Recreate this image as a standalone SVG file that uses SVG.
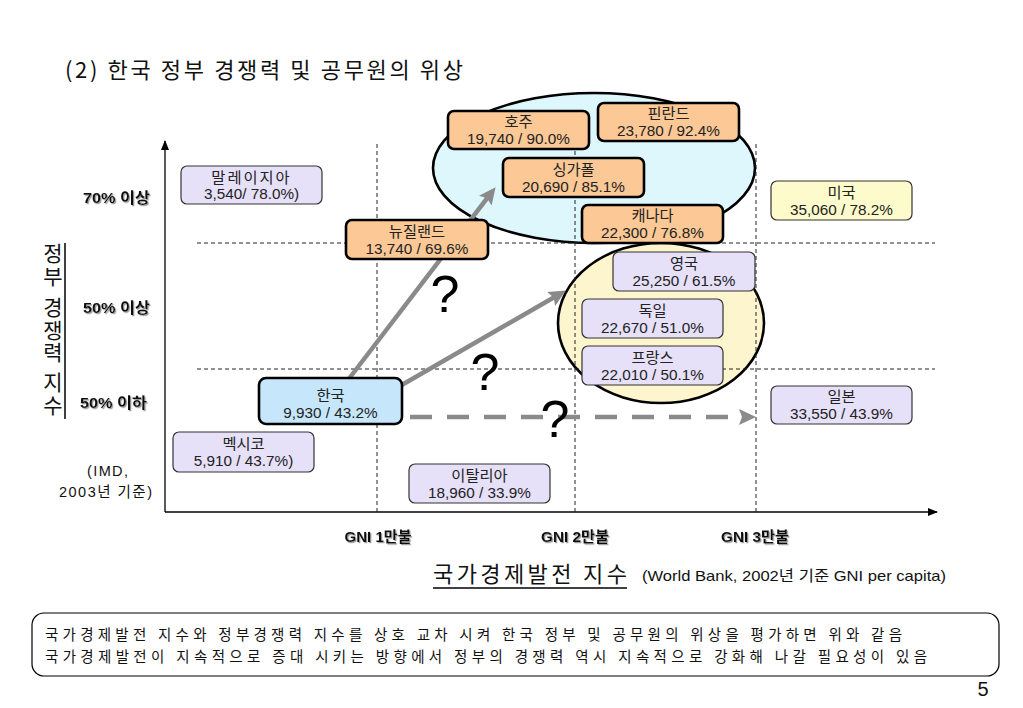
<svg xmlns="http://www.w3.org/2000/svg" width="1023" height="708" viewBox="0 0 1023 708">
<style>
text{font-family:"Liberation Sans","Noto Sans CJK KR",sans-serif;fill:#111}
.kr{font-family:"Noto Sans CJK KR","Liberation Sans",sans-serif}
.bx text{font-size:15.3px;text-anchor:middle;fill:#222}
.lav{fill:#e6e0f9;stroke:#333;stroke-width:1.2}
.org{fill:#fbc896;stroke:#000;stroke-width:2.6}
.yel{fill:#fdfbcb;stroke:#333;stroke-width:1.2}
.blu{fill:#c6e7fb;stroke:#000;stroke-width:2.6}
.grid{stroke:#222;stroke-width:1;stroke-dasharray:4 3;fill:none}
.arr{stroke:#8a8a8a;stroke-width:4.5;fill:none}
.lbl{font-size:14.5px;font-weight:bold;text-anchor:end;filter:url(#sh)}
.gni{font-size:14.5px;font-weight:bold;text-anchor:middle;filter:url(#sh)}
.q{font-size:52px;text-anchor:middle;fill:#000}
.vt{font-size:21px;writing-mode:vertical-rl;letter-spacing:1.5px}
</style>
<defs>
<filter id="sh" x="-10%" y="-30%" width="130%" height="170%"><feDropShadow dx="1.2" dy="1.2" stdDeviation="0.6" flood-color="#9a9a9a"/></filter>
<marker id="ga" markerUnits="userSpaceOnUse" markerWidth="18" markerHeight="16" refX="6" refY="8" orient="auto"><path d="M0,0 L17,8 L0,16 L3,8 z" fill="#8a8a8a"/></marker>
<marker id="ka" markerUnits="userSpaceOnUse" markerWidth="10" markerHeight="8" refX="9" refY="4" orient="auto"><path d="M0,0 L10,4 L0,8 z" fill="#000"/></marker>
</defs>
<rect width="1023" height="708" fill="#fff"/>

<text class="kr" x="65" y="78" font-size="22" textLength="398" lengthAdjust="spacing">(2) 한국 정부 경쟁력 및 공무원의 위상</text>

<g id="ellipses">
<ellipse id="cluster-top" cx="594" cy="168" rx="161" ry="75" fill="#ddf7fd" stroke="#000" stroke-width="2.6"/>
<ellipse id="cluster-mid" cx="661" cy="323" rx="103" ry="80" fill="#fdf5cd" stroke="#000" stroke-width="2.6"/>
</g>

<g id="axes">
<line x1="165" y1="512" x2="165" y2="141" stroke="#000" stroke-width="1.3" marker-end="url(#ka)"/>
<line x1="165" y1="512" x2="937" y2="512" stroke="#000" stroke-width="1.3" marker-end="url(#ka)"/>
<line class="grid" x1="377" y1="144" x2="377" y2="512"/>
<line class="grid" x1="575" y1="144" x2="575" y2="512"/>
<line class="grid" x1="756" y1="144" x2="756" y2="512"/>
<line class="grid" x1="197" y1="243" x2="935" y2="243"/>
<line class="grid" x1="197" y1="369" x2="935" y2="369"/>
</g>

<g id="connectors">
<line class="arr" x1="348" y1="380" x2="488.9" y2="195.9" marker-end="url(#ga)"/>
<line class="arr" x1="400" y1="386" x2="556.3" y2="296" marker-end="url(#ga)"/>
<line class="arr" x1="410" y1="417" x2="745" y2="417" stroke-dasharray="22 15" marker-end="url(#ga)"/>
</g>

<g id="questions">
<text class="q" x="445" y="312">?</text>
<text class="q" x="485" y="390">?</text>
<text class="q" x="555" y="437">?</text>
</g>

<g class="bx">
<g id="malaysia"><rect class="lav" x="181" y="166" width="141" height="38" rx="6"/><text x="251.5" y="182.5" letter-spacing="2">말레이지아</text><text x="251.5" y="199">3,540/ 78.0%)</text></g>
<g id="usa"><rect class="yel" x="771" y="181" width="141" height="39" rx="6"/><text x="841.5" y="197.5">미국</text><text x="841.5" y="214.5">35,060 / 78.2%</text></g>
<g id="australia"><rect class="org" x="448" y="111" width="141" height="38" rx="6"/><text x="518.5" y="127">호주</text><text x="518.5" y="144">19,740 / 90.0%</text></g>
<g id="finland"><rect class="org" x="598" y="103" width="141" height="38" rx="6"/><text x="668.5" y="119">핀란드</text><text x="668.5" y="136">23,780 / 92.4%</text></g>
<g id="singapore"><rect class="org" x="503" y="158" width="141" height="39" rx="6"/><text x="573.5" y="174.5">싱가폴</text><text x="573.5" y="191.5">20,690 / 85.1%</text></g>
<g id="canada"><rect class="org" x="582" y="205" width="141" height="38" rx="6"/><text x="652.5" y="221">캐나다</text><text x="652.5" y="238">22,300 / 76.8%</text></g>
<g id="newzealand"><rect class="org" x="346" y="220" width="142" height="39" rx="6"/><text x="417" y="236.5">뉴질랜드</text><text x="417" y="253.5">13,740 / 69.6%</text></g>
<g id="uk"><rect class="lav" x="613" y="252" width="142" height="39" rx="6"/><text x="684" y="268.5">영국</text><text x="684" y="285.5">25,250 / 61.5%</text></g>
<g id="germany"><rect class="lav" x="582" y="299" width="141" height="39" rx="6"/><text x="652.5" y="315.5">독일</text><text x="652.5" y="332.5">22,670 / 51.0%</text></g>
<g id="france"><rect class="lav" x="582" y="346" width="141" height="39" rx="6"/><text x="652.5" y="362.5">프랑스</text><text x="652.5" y="379.5">22,010 / 50.1%</text></g>
<g id="japan"><rect class="lav" x="771" y="386" width="141" height="38" rx="6"/><text x="841.5" y="402">일본</text><text x="841.5" y="419">33,550 / 43.9%</text></g>
<g id="korea"><rect class="blu" x="259" y="378" width="143" height="46" rx="7"/><text x="330.5" y="401">한국</text><text x="330.5" y="417.5">9,930 / 43.2%</text></g>
<g id="mexico"><rect class="lav" x="173" y="432" width="141" height="40" rx="6"/><text x="243.5" y="449">멕시코</text><text x="243.5" y="466">5,910 / 43.7%)</text></g>
<g id="italy"><rect class="lav" x="409" y="464" width="141" height="39" rx="6"/><text x="479.5" y="480.5">이탈리아</text><text x="479.5" y="497.5">18,960 / 33.9%</text></g>
</g>

<g id="y-labels">
<text class="lbl" x="150" y="203" textLength="67" lengthAdjust="spacingAndGlyphs">70% 이상</text>
<text class="lbl" x="150" y="313" textLength="67" lengthAdjust="spacingAndGlyphs">50% 이상</text>
<text class="lbl" x="147" y="408" textLength="67" lengthAdjust="spacingAndGlyphs">50% 이하</text>
<text x="128" y="476" font-size="14.5" text-anchor="end" textLength="41">(IMD,</text>
<text x="152" y="497" font-size="14.5" text-anchor="end" textLength="93">2003년 기준)</text>
</g>

<g id="y-title">
<text class="kr vt" x="53" y="243">정부</text>
<text class="kr vt" x="53" y="297">경쟁력</text>
<text class="kr vt" x="53" y="372">지수</text>
<line x1="65" y1="243" x2="65" y2="419" stroke="#000" stroke-width="1.5"/>
</g>

<g id="x-labels">
<text class="gni" x="378" y="542" textLength="67" lengthAdjust="spacingAndGlyphs">GNI 1만불</text>
<text class="gni" x="575" y="542" textLength="68" lengthAdjust="spacingAndGlyphs">GNI 2만불</text>
<text class="gni" x="755" y="542" textLength="68" lengthAdjust="spacingAndGlyphs">GNI 3만불</text>
<text class="kr" x="433" y="582" font-size="22" textLength="194" lengthAdjust="spacing">국가경제발전 지수</text>
<line x1="433" y1="588" x2="627" y2="588" stroke="#000" stroke-width="1.6"/>
<text x="642" y="581" font-size="14.5" textLength="304" lengthAdjust="spacingAndGlyphs">(World Bank, 2002년 기준 GNI per capita)</text>
</g>

<g id="summary">
<rect x="32" y="613" width="967" height="63" rx="12" fill="#fff" stroke="#000" stroke-width="1.2"/>
<text class="kr" x="45" y="639.5" font-size="14.5" textLength="857" lengthAdjust="spacing">국가경제발전 지수와 정부경쟁력 지수를 상호 교차 시켜 한국 정부 및 공무원의 위상을 평가하면  위와 같음</text>
<text class="kr" x="45" y="661.5" font-size="14.5" textLength="882" lengthAdjust="spacing">국가경제발전이 지속적으로 증대 시키는 방향에서 정부의 경쟁력 역시 지속적으로 강화해 나갈 필요성이 있음</text>
</g>
<text x="983" y="696" font-size="20" text-anchor="middle">5</text>
</svg>
